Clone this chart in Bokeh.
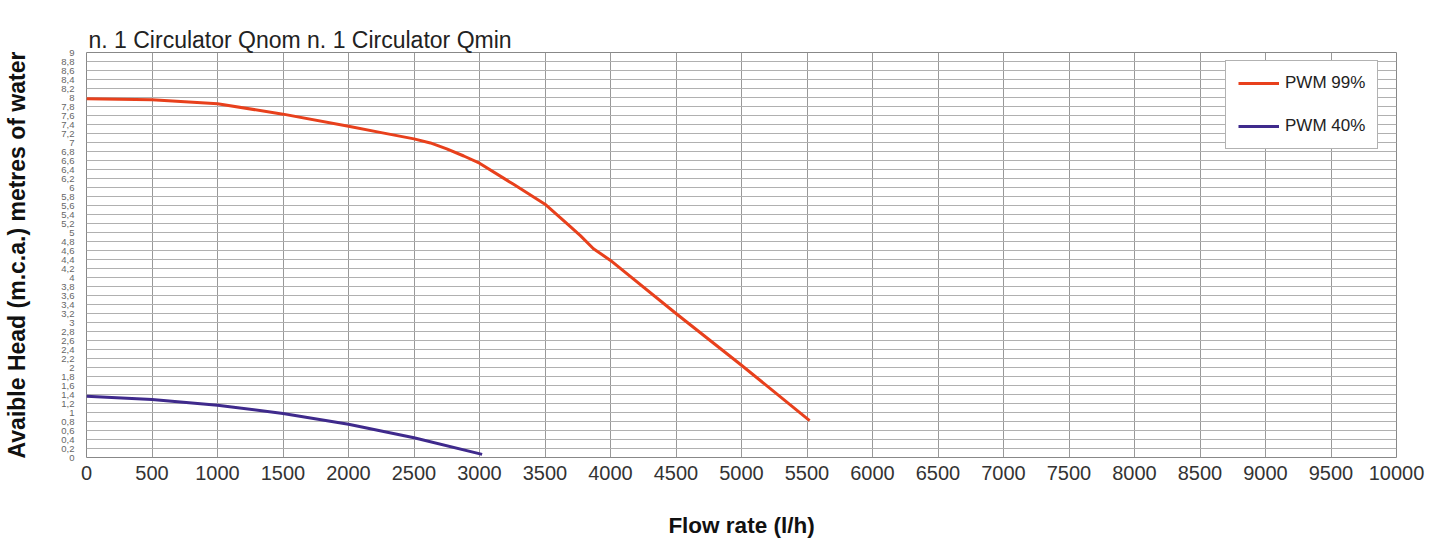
from bokeh.plotting import figure
from bokeh.models import FixedTicker, CustomJSTickFormatter, Legend, LegendItem, Range1d, LinearAxis, Title
from bokeh.embed import file_html
from bokeh.resources import INLINE

# ---- data ----
pwm99_flow = [0, 500, 1000, 1500, 2000, 2250, 2500, 2625, 2750, 2880, 3000, 3260, 3500, 3670, 3770, 3870, 4000, 4500, 5000, 5520]
pwm99_head = [7.97, 7.95, 7.86, 7.63, 7.36, 7.22, 7.08, 6.99, 6.86, 6.70, 6.54, 6.07, 5.63, 5.19, 4.93, 4.64, 4.38, 3.2, 2.05, 0.82]

pwm40_flow = [0, 500, 1000, 1500, 2000, 2500, 3020]
pwm40_head = [1.36, 1.29, 1.16, 0.98, 0.74, 0.44, 0.07]

x_ticks = [0, 500, 1000, 1500, 2000, 2500, 3000, 3500, 4000, 4500, 5000,
           5500, 6000, 6500, 7000, 7500, 8000, 8500, 9000, 9500, 10000]
y_ticks = [round(i * 0.2, 1) for i in range(46)]

title_text = "n. 1 Circulator Qnom n. 1 Circulator Qmin"
x_label = "Flow rate (l/h)"
y_label = "Avaible Head (m.c.a.) metres of water"
series_names = ["PWM 99%", "PWM 40%"]
series_colors = ["#e8401c", "#3f2a8c"]

FONT = "Liberation Sans"

p = figure(width=1432, height=540, output_backend="svg", toolbar_location=None,
           x_range=Range1d(0, 10000), y_range=Range1d(0, 9),
           min_border_left=86, min_border_right=36, min_border_top=52, min_border_bottom=80)
p.title.text = ""

p.outline_line_color = "#888888"
p.outline_line_width = 1

# axes
p.xaxis.ticker = FixedTicker(ticks=x_ticks)
p.yaxis.ticker = FixedTicker(ticks=y_ticks)
p.yaxis.formatter = CustomJSTickFormatter(code="""
    var s = tick.toFixed(1);
    if (s.endsWith('.0')) { s = s.slice(0, -2); }
    return s.replace('.', ',');
""")
for ax in (p.xaxis[0], p.yaxis[0]):
    ax.axis_line_color = None
    ax.major_tick_out = 0
    ax.major_tick_in = 0
    ax.minor_tick_out = 0
    ax.minor_tick_in = 0
    ax.major_label_text_font = FONT
    ax.axis_label_text_font = FONT
    ax.axis_label_text_font_style = "bold"
    ax.axis_label_text_color = "#111111"

p.xaxis.major_label_text_font_size = "20px"
p.xaxis.major_label_text_color = "#333333"
p.xaxis.major_label_standoff = 8
p.xaxis.axis_label = x_label
p.xaxis.axis_label_text_font_size = "22.5px"
p.xaxis.axis_label_standoff = 30

p.yaxis.major_label_text_font_size = "9.5px"
p.yaxis.major_label_text_color = "#666666"
p.yaxis.major_label_standoff = 12
p.yaxis.axis_label = y_label
p.yaxis.axis_label_text_font_size = "23px"
p.yaxis.axis_label_standoff = 28

# grids
p.xgrid.grid_line_color = "#999999"
p.xgrid.grid_line_width = 1
p.ygrid.grid_line_color = "#b0b0b0"
p.ygrid.grid_line_width = 1

r1 = p.line(pwm99_flow, pwm99_head, line_color=series_colors[0], line_width=3, line_join="round")
r2 = p.line(pwm40_flow, pwm40_head, line_color=series_colors[1], line_width=3, line_join="round")

legend = Legend(items=[LegendItem(label=series_names[0], renderers=[r1]),
                       LegendItem(label=series_names[1], renderers=[r2])],
                location=(1139, 308))
legend.label_text_font = FONT
legend.label_text_font_size = "17px"
legend.label_text_color = "#222222"
legend.glyph_width = 41
legend.glyph_height = 16
legend.label_height = 16
legend.label_standoff = 6
legend.spacing = 23
legend.padding = 12
legend.border_line_color = "#666666"
legend.border_line_width = 1
legend.background_fill_color = "white"
legend.background_fill_alpha = 1
p.add_layout(legend)

# title first (outermost), then an invisible spacer next to the plot area
top_title = Title(text=title_text, text_font=FONT, text_font_size="23px",
                  text_font_style="normal", text_color="#222222",
                  offset=2, standoff=0, vertical_align="bottom", align="left")
p.add_layout(top_title, "above")

spacer = LinearAxis(ticker=FixedTicker(ticks=[]), axis_line_color=None,
                    major_tick_out=24, major_tick_in=0, minor_tick_out=0, minor_tick_in=0,
                    major_tick_line_color=None, minor_tick_line_color=None,
                    major_label_standoff=0)
p.add_layout(spacer, "above")

open("out.html", "w").write(file_html(p, INLINE))
